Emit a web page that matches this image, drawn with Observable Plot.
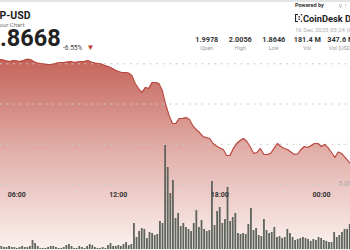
<!DOCTYPE html>
<html><head><meta charset="utf-8">
<script src="https://cdn.jsdelivr.net/npm/d3@7"></script>
<script src="https://cdn.jsdelivr.net/npm/@observablehq/plot@0.6"></script>
<style>
html,body{margin:0;padding:0;background:#fff;overflow:hidden;}
#wrap{position:relative;width:350px;height:250px;overflow:hidden;font-family:Roboto,"Open Sans",sans-serif;background:#fff;}
#wrap svg{position:absolute;left:0;top:0;}
.t{position:absolute;white-space:nowrap;line-height:1;}
</style></head><body><div id="wrap"></div>
<script>
// ---- data ----
const symbol = "XRP-USD";
const subtitle = "24 Hour Chart";
const lastPrice = "1.8668";
const changePct = "-6.55%";
const poweredBy = "Powered by";
const brand = "CoinDesk Data";
const stamp = "16 Dec 2025 03:24 (UTC)";
const statValues = ["1.9978", "2.0056", "1.8646", "181.4 M", "347.6 M"];
const statLabels = ["Open", "High", "Low", "Vol", "Vol (USD)"];

const priceStartHour = 5.0, priceStepHour = 0.2;
const prices = [
2.0054,2.0047,2.0035,2.0029,2.0041,2.0035,2.0029,2.0041,2.0056,2.0054,
2.0029,2.0010,2.0004,1.9998,1.9991,1.9991,1.9998,2.0010,2.0016,2.0016,
2.0022,2.0029,2.0016,2.0022,2.0029,2.0029,2.0041,2.0022,2.0010,2.0004,
1.9998,1.9979,1.9967,1.9948,1.9923,1.9904,1.9892,1.9892,1.9886,1.9855,
1.9755,1.9693,1.9643,1.9706,1.9693,1.9768,1.9768,1.9755,1.9668,1.9494,
1.9358,1.9258,1.9258,1.9320,1.9320,1.9333,1.9308,1.9233,1.9184,1.9146,
1.9097,1.9084,1.9072,1.9010,1.8978,1.8954,1.8935,1.8860,1.8860,1.8947,
1.9010,1.9047,1.9072,1.9034,1.8966,1.8885,1.8898,1.8947,1.8873,1.8873,
1.8885,1.8947,1.9010,1.8972,1.8947,1.8935,1.8904,1.8873,1.8879,1.8935,
1.8972,1.8960,1.8985,1.9010,1.9010,1.8972,1.8997,1.8954,1.8898,1.8836,
1.8904,1.8885,1.8836,1.8786,1.8749];

const volStartHour = 5.1138, volStepHour = 0.15366;
const volumes = [ // millions
0.23,0.15,0.15,0.23,0.15,0.15,0.08,0.15,0.23,0.15,
0.15,0.23,0.68,0.45,0.23,0.08,0.08,0.08,0.15,0.23,
0.23,0.15,0.08,0.08,0.15,0.30,0.38,0.23,0.08,0.08,
0.23,0.15,0.08,0.23,0.38,0.30,0.15,0.08,0.08,0.15,
0.08,0.30,0.45,0.23,0.23,0.30,0.23,0.38,0.53,0.30,
0.38,
1.97,0.91,1.36,1.59,1.52,0.83,1.29,1.21,1.06,1.14,2.12,
1.97,7.88,6.21,4.24,5.23,2.35,2.73,1.74,1.97,1.67,
1.52,1.36,1.97,2.95,1.67,2.20,1.52,1.36,1.44,
5.15,1.82,2.88,3.18,1.97,2.27,4.70,2.12,2.42,2.73,
1.21,1.14,1.21,1.14,1.89,3.11,1.44,1.59,1.06,0.98,
2.27,1.44,1.21,1.29,1.67,0.91,0.98,0.83,0.91,1.52,
1.21,0.91,0.68,0.76,0.83,0.91,0.83,0.76,0.61,
0.76,0.68,0.91,0.83,0.68,0.61,0.53,0.53,1.29,0.91,
1.06,1.29,1.52,1.52,1.89];

const gridPrices = [1.85, 1.90, 1.95, 2.00];
const timeTicks = [6, 12, 18, 24];
const timeTickLabels = ["06:00", "12:00", "18:00", "00:00"];
const volTicks = [5];

// ---- build ----
const priceData = prices.map((p, i) => ({t: priceStartHour + i * priceStepHour, p}));
const volData = volumes.map((v, i) => ({t: volStartHour + i * volStepHour, v}));
const xDomain = [5.037, 25.72];
const font = "Roboto, 'Open Sans', sans-serif";
const wrap = document.getElementById("wrap");

const pricePlot = Plot.plot({
  width: 350, height: 250, margin: 0,
  style: {background: "transparent", fontFamily: font},
  x: {domain: xDomain, axis: null},
  y: {domain: [1.85, 2.00], range: [184, 63.3], axis: null},
  marks: [
    Plot.areaY(priceData, {x: "t", y: "p", fill: "url(#pgrad)", clip: true}),
    Plot.ruleY(gridPrices, {stroke: "#c9c9c9", strokeDasharray: "2,4.5", strokeWidth: 1}),
    Plot.lineY(priceData, {x: "t", y: "p", stroke: "#b9463e", strokeWidth: 1.15})
  ]
});
const defs = d3.select(pricePlot).insert("defs", ":first-child");
const lg = defs.append("linearGradient").attr("id", "pgrad")
  .attr("gradientUnits", "userSpaceOnUse").attr("x1", 0).attr("x2", 0).attr("y1", 58).attr("y2", 250);
lg.append("stop").attr("offset", 0).attr("stop-color", "#c4635a");
lg.append("stop").attr("offset", 0.5).attr("stop-color", "#e3b1ab");
lg.append("stop").attr("offset", 1).attr("stop-color", "#fbf2f0");
wrap.appendChild(pricePlot);

const volPlot = Plot.plot({
  width: 350, height: 250, margin: 0,
  style: {background: "transparent", fontFamily: font},
  x: {domain: xDomain, axis: null},
  y: {domain: [0, 5], range: [249, 183], axis: null},
  marks: [
    Plot.rectY(volData, {x1: d => d.t - volStepHour / 2, x2: d => d.t + volStepHour / 2, y: "v",
      fill: "#5e645e", insetLeft: 0.4, insetRight: 0.4}),
    Plot.axisX(timeTicks, {anchor: "bottom", tickSize: 0, tickPadding: 0,
      tickFormat: d => timeTickLabels[timeTicks.indexOf(d)],
      dy: -58, fontSize: 7, fontWeight: "bold", fill: "#333"}),
    Plot.axisY(volTicks, {anchor: "right", tickSize: 0, tickPadding: 0, dx: -12,
      tickFormat: d => d.toFixed(2) + "M", fontSize: 7, fill: "#aaa"})
  ]
});
wrap.appendChild(volPlot);

// ---- header ----
function txt(s, css) {
  const d = document.createElement("div");
  d.className = "t"; d.textContent = s; d.style.cssText += css;
  wrap.appendChild(d); return d;
}
const bar = document.createElement("div");
bar.style.cssText = "position:absolute;left:0;top:0;width:350px;height:2px;background:#e4e4e4;";
wrap.appendChild(bar);
txt(symbol, "left:-14px;top:11.3px;font-size:10.5px;font-weight:700;color:#222;");
txt(subtitle, "left:-13px;top:23.3px;font-size:6px;line-height:0.8;color:#777;");
txt(lastPrice, "left:-13.5px;top:29.4px;font-size:23.5px;line-height:0.85;font-weight:700;color:#222;");
txt(changePct, "left:63px;top:44.6px;font-size:6.5px;color:#444;");
txt("\u25BC", "left:86.5px;top:44.3px;font-size:8px;color:#c0392b;");
txt(poweredBy, "left:295px;top:3.3px;font-size:5.5px;font-weight:700;color:#333;");
const icon = document.createElementNS("http://www.w3.org/2000/svg", "svg");
icon.setAttribute("width", 8); icon.setAttribute("height", 8);
icon.style.cssText = "position:absolute;left:295px;top:14px;";
icon.innerHTML = '<path d="M3 0.5H0.5V7.5H3" fill="none" stroke="#222" stroke-width="1.2"/><rect x="3.5" y="2.2" width="1.4" height="1.4" fill="#222"/><rect x="3.5" y="4.6" width="1.4" height="1.4" fill="#222"/><rect x="5.8" y="0" width="1.4" height="1.4" fill="#222"/><rect x="5.8" y="6.6" width="1.4" height="1.4" fill="#222"/>';
wrap.appendChild(icon);
txt(brand, "left:303px;top:13.5px;font-size:9.3px;font-weight:700;color:#222;");
txt(stamp, "left:295px;top:26.5px;font-size:6px;color:#b0b0b0;");
statValues.forEach((v, i) => {
  txt(v, `left:${190 + i * 33.5}px;width:33.5px;text-align:center;top:36px;font-size:7.3px;font-weight:700;color:#333;`);
  txt(statLabels[i], `left:${190 + i * 33.5}px;width:33.5px;text-align:center;top:46px;font-size:5.5px;color:#999;`);
});
</script></body></html>
